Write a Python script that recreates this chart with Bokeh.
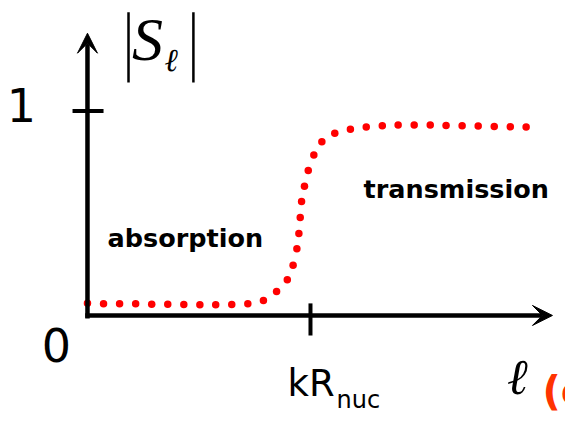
from bokeh.plotting import figure
from bokeh.models import Range1d, Arrow, VeeHead, Label, ColumnDataSource
from bokeh.embed import file_html
from bokeh.resources import INLINE

# |S_l| versus l, with l measured in units of kR_nuc
ell = [0.000, 0.072, 0.144, 0.216, 0.288, 0.360, 0.432, 0.504, 0.575, 0.647,
       0.719, 0.789, 0.848, 0.896, 0.922, 0.939, 0.948, 0.954, 0.960, 0.973,
       0.990, 1.015, 1.051, 1.109, 1.179, 1.250, 1.322, 1.393, 1.465, 1.537,
       1.608, 1.680, 1.752, 1.824, 1.896, 1.967]
s_mag = [0.060, 0.057, 0.057, 0.057, 0.055, 0.055, 0.054, 0.052, 0.052, 0.054,
         0.057, 0.073, 0.117, 0.175, 0.246, 0.326, 0.401, 0.479, 0.557, 0.632,
         0.709, 0.784, 0.849, 0.891, 0.911, 0.921, 0.928, 0.931, 0.931, 0.931,
         0.929, 0.928, 0.926, 0.924, 0.923, 0.921]

y_tick_value = 1.0
y_tick_label = "1"
origin_label = "0"
x_tick_value = 1.0          # l = kR_nuc
x_tick_main = "kR"
x_tick_sub = "nuc"
region_labels = ["absorption", "transmission"]

p = figure(width=565, height=425, output_backend="svg", toolbar_location=None,
           x_axis_type=None, y_axis_type=None, min_border=0,
           x_range=Range1d(-0.390, 2.1435), y_range=Range1d(-0.538, 1.540))
p.outline_line_color = None
p.background_fill_color = "white"
p.border_fill_color = "white"

AX_W = 4.5


def label(x, y, text, font, size, style="normal", align="left", color="black"):
    p.add_layout(Label(x=x, y=y, text=text, text_font=font, text_font_style=style,
                       text_font_size=f"{size}px", text_align=align,
                       text_baseline="alphabetic", text_color=color))


# hand-drawn style axes with arrow heads
p.add_layout(Arrow(end=VeeHead(size=20, fill_color="black", line_color="black", line_width=1),
                   x_start=0, y_start=-0.015, x_end=0, y_end=1.38,
                   line_width=AX_W, line_color="black"))
p.add_layout(Arrow(end=VeeHead(size=20, fill_color="black", line_color="black", line_width=1),
                   x_start=-0.01, y_start=0, x_end=2.085, y_end=0,
                   line_width=AX_W, line_color="black"))

# tick marks at |S| = 1 and l = kR_nuc
p.segment(x0=[-0.067], y0=[y_tick_value], x1=[0.072], y1=[y_tick_value],
          line_width=4, line_color="black")
p.segment(x0=[x_tick_value], y0=[0.059], x1=[x_tick_value], y1=[-0.098],
          line_width=4, line_color="black")

# the dotted curve
src = ColumnDataSource(dict(ell=ell, s=s_mag))
p.scatter("ell", "s", source=src, size=7.5, fill_color="#ff0000", line_color=None)

# axis labels
label(-0.296, 1.030, y_tick_label, "DejaVu Sans", 46, align="center")
label(-0.139, -0.145, origin_label, "DejaVu Sans", 46, align="center")
label(0.897, -0.332, x_tick_main, "DejaVu Sans", 37)
label(1.117, -0.415, x_tick_sub, "DejaVu Sans", 24)
label(1.928, -0.303, "\u2113", "DejaVu Serif", 50, style="italic", align="center")
label(2.040, -0.368, "(c)", "DejaVu Sans", 40, style="bold", color="#ff3300")

# |S_l| label
p.segment(x0=[0.184, 0.475], y0=[1.482, 1.482], x1=[0.184, 0.475], y1=[1.139, 1.139],
          line_width=2.5, line_color="black")
label(0.200, 1.350, "S", "Liberation Serif", 62, style="italic")
label(0.345, 1.250, "\u2113", "DejaVu Serif", 32, style="italic")

# region annotations
label(0.090, 0.380, region_labels[0], "DejaVu Sans", 25.5, style="bold")
label(1.238, 0.618, region_labels[1], "DejaVu Sans", 25.5, style="bold")

open("out.html", "w").write(file_html(p, INLINE))
